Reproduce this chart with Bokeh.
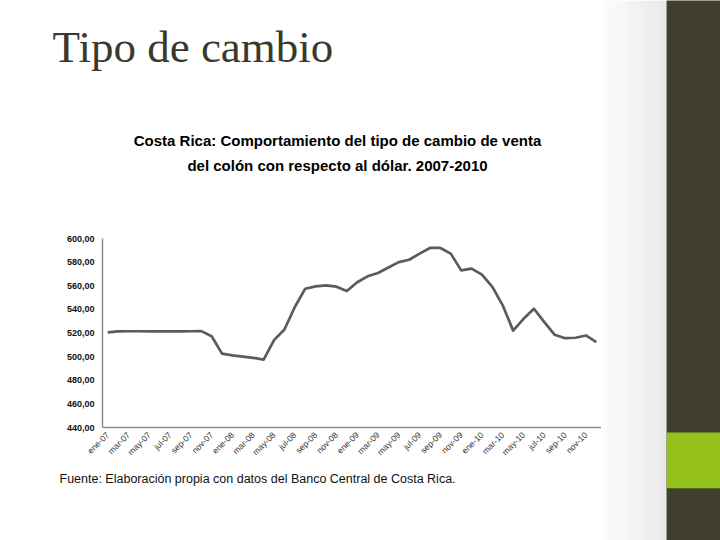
from bokeh.plotting import figure
from bokeh.layouts import column, row
from bokeh.models import FixedTicker, Range1d
from bokeh.core.properties import value
from bokeh.embed import file_html
from bokeh.resources import INLINE

# ---- data ----
month_abbr = ["ene", "feb", "mar", "abr", "may", "jun", "jul", "ago", "sep", "oct", "nov", "dic"]
years = ["07", "08", "09", "10"]
months = [f"{m}-{y}" for y in years for m in month_abbr]
values = [520.5, 521.3, 521.5, 521.5, 521.4, 521.3, 521.3, 521.4, 521.5, 521.6,
          517.3, 502.5, 501.0, 500.0, 499.0, 497.5, 514.0, 523.0, 542.0, 557.5,
          559.5, 560.3, 559.2, 555.5, 563.0, 568.0, 570.8, 575.4, 580.0, 582.0,
          587.2, 592.0, 592.0, 587.2, 573.0, 574.5, 569.4, 559.0, 543.4, 522.0,
          532.0, 540.5, 529.2, 518.5, 515.6, 516.0, 517.9, 512.2]
y_ticks = [440, 460, 480, 500, 520, 540, 560, 580, 600]
y_tick_labels = ["440,00", "460,00", "480,00", "500,00", "520,00", "540,00", "560,00", "580,00", "600,00"]
x_idx = list(range(len(months)))
x_tick_idx = x_idx[::2]

slide_title = "Tipo de cambio"
chart_title_1 = "Costa Rica: Comportamiento del tipo de cambio de venta"
chart_title_2 = "del colón con respecto al dólar. 2007-2010"
footer = "Fuente: Elaboración propia con datos del Banco Central de Costa Rica."

# ---- styles ----
BAR = "#3f3e30"
GREEN = "#94c11c"
SHADOW = "#3b4a14"


def deco(x0, y0, w, h):
    """A decoration panel whose frame covers its whole canvas, in page pixel coordinates."""
    f = figure(width=w, height=h, output_backend="svg", toolbar_location=None,
               x_range=Range1d(x0, x0 + w), y_range=Range1d(y0 + h, y0),
               x_axis_location=None, y_axis_location=None, min_border=0)
    f.xgrid.visible = False
    f.ygrid.visible = False
    f.outline_line_color = None
    f.background_fill_color = "white"
    f.border_fill_color = "white"
    return f


# ---- top panel: slide title and chart title ----
top = deco(0, 0, 601, 200)
top.text(x=[52], y=[46], text=[slide_title], text_font=value("Liberation Serif"),
         text_font_size="45px", text_color="#3a392c", text_baseline="middle", text_align="left")
top.text(x=[337, 337], y=[140, 165], text=[chart_title_1, chart_title_2],
         text_font=value("Liberation Sans"), text_font_style="bold", text_font_size="15px",
         text_color="#000000", text_baseline="middle", text_align="center")

# ---- chart ----
p = figure(width=601, height=270, output_backend="svg", toolbar_location=None,
           x_range=Range1d(-0.5, len(months) - 0.5), y_range=Range1d(440, 600),
           min_border_left=102, min_border_right=0, min_border_top=38, min_border_bottom=43)
p.outline_line_color = None
p.xgrid.visible = False
p.ygrid.visible = False
p.background_fill_color = "white"
p.border_fill_color = "white"

p.line(x_idx, values, line_color="#5b5b5b", line_width=2.7, line_join="round")

p.yaxis.ticker = FixedTicker(ticks=y_ticks)
p.yaxis.major_label_overrides = {t: l for t, l in zip(y_ticks, y_tick_labels)}
p.yaxis.major_label_text_font = "Liberation Sans"
p.yaxis.major_label_text_font_style = "bold"
p.yaxis.major_label_text_font_size = "9px"
p.yaxis.major_label_text_color = "#111111"
p.yaxis.major_label_standoff = 8

p.xaxis.ticker = FixedTicker(ticks=x_tick_idx)
p.xaxis.major_label_overrides = {i: months[i] for i in x_tick_idx}
p.xaxis.major_label_orientation = 0.785398
p.xaxis.major_label_text_font = "Liberation Sans"
p.xaxis.major_label_text_font_size = "8.5px"
p.xaxis.major_label_text_color = "#333333"
p.xaxis.major_label_standoff = 6

for ax in (p.xaxis, p.yaxis):
    ax.major_tick_out = 0
    ax.major_tick_in = 0
    ax.minor_tick_out = 0
    ax.minor_tick_in = 0
    ax.axis_line_color = "#8c8c8c"
    ax.axis_line_width = 1.5

# ---- bottom panel: source note ----
bottom = deco(0, 470, 601, 70)
bottom.text(x=[59], y=[478], text=[footer], text_font=value("Liberation Sans"),
            text_font_size="12.5px", text_color="#111111", text_baseline="middle", text_align="left")

# ---- shaded strip right of the chart ----
n_b = 16
shade = deco(601, 0, 65, 540)
bw = 65 / n_b
lefts = [601 + i * bw for i in range(n_b)]
greys = [int(round(0xfc - (0xfc - 0xe9) * i / (n_b - 1))) for i in range(n_b)]
shade.quad(left=lefts, right=[l + bw + 0.5 for l in lefts], top=0, bottom=540,
           fill_color=[f"#{g:02x}{g:02x}{g:02x}" for g in greys], line_color=None)

# ---- right bar with green square ----
bar = deco(666, 0, 54, 540)
bar.background_fill_color = BAR
bar.border_fill_color = BAR
bar.quad(left=666, right=720, top=432, bottom=488, fill_color=GREEN, line_color=None)
bar.quad(left=666, right=720, top=488, bottom=490, fill_color=SHADOW, line_color=None)

left_col = column(top, row(p, spacing=0), bottom, spacing=0)
layout = row(left_col, shade, bar, spacing=0)

open("out.html", "w").write(file_html(layout, INLINE))
